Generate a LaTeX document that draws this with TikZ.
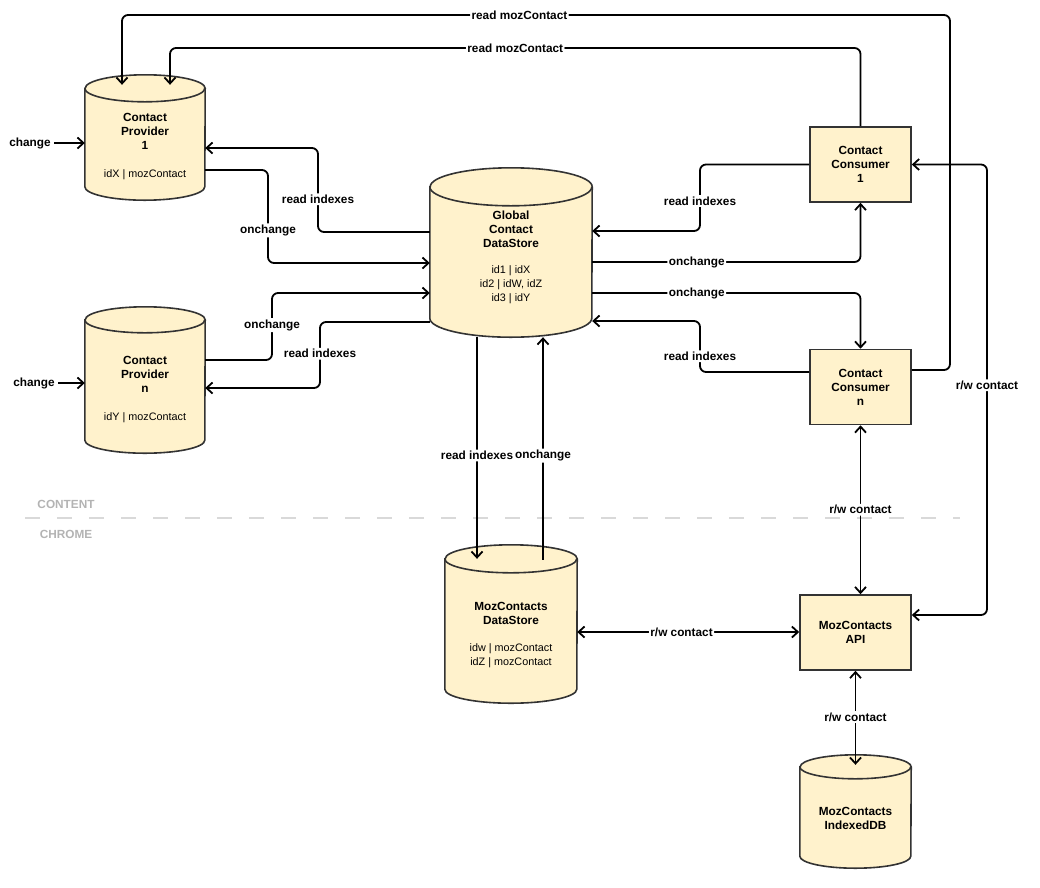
\documentclass[tikz,border=0pt]{standalone}
\usepackage{fontspec}
\setmainfont{Liberation Sans}
\usetikzlibrary{arrows.meta,backgrounds}
\definecolor{boxfill}{HTML}{FFF2CC}
\definecolor{boxline}{HTML}{333333}
\definecolor{zonegray}{HTML}{B3B3B3}
\definecolor{zoneline}{HTML}{D9D9D9}
\newcommand\cyl[3]{% node, x radius, y radius
  \filldraw[boxline,fill=boxfill,line width=1.6pt] ([yshift=-#3]#1.north west) -- ([yshift=#3]#1.south west)
    arc[start angle=180,end angle=360,x radius=#2,y radius=#3] -- ([yshift=-#3]#1.north east)
    arc[start angle=0,end angle=180,x radius=#2,y radius=#3] -- cycle;
  \draw[boxline,line width=1.6pt] ([yshift=-#3]#1.north west) arc[start angle=180,end angle=360,x radius=#2,y radius=#3];}
\newcommand\ids{\mdseries\fontsize{10.8pt}{13pt}\selectfont}
\begin{document}
\begin{tikzpicture}[x=1pt,y=-1pt,
  font=\fontsize{11.8pt}{14pt}\selectfont\bfseries,
  box/.style={draw=boxline,fill=boxfill,line width=1.6pt,minimum width=101pt,minimum height=75pt,align=center},
  store/.style={inner sep=0pt},
  inside/.style={align=center},
  conn/.style={line width=1.8pt,rounded corners=6pt},
  arr/.style={conn,-{Straight Barb[length=6pt,width=11pt]}},
  biarr/.style={conn,{Straight Barb[length=6pt,width=11pt]}-{Straight Barb[length=6pt,width=11pt]}},
  lbl/.style={fill=white,inner sep=1.5pt},
  zone/.style={text=zonegray}]
  \useasboundingbox (0,0) rectangle (1040,887);
  \node[store,minimum width=120pt,minimum height=125pt] (prov1) at (145,137.5) {};
  \node[store,minimum width=120pt,minimum height=146pt] (provn) at (145,380) {};
  \node[store,minimum width=162pt,minimum height=169pt] (global) at (511,252.5) {};
  \node[store,minimum width=132pt,minimum height=158pt] (mozds) at (511,624) {};
  \node[store,minimum width=111pt,minimum height=113pt] (idb) at (855.5,811.5) {};
  \begin{scope}[on background layer]
    \foreach \n/\rx/\ry in {prov1/60/13.5,provn/60/13,global/81/19,mozds/66/14,idb/55.5/12}{\cyl{\n}{\rx pt}{\ry pt}}
  \end{scope}
  \node[inside] (prov1t) at (145,147) {Contact\\Provider\\1\\[14pt]\ids idX | mozContact};
  \node[inside] (provnt) at (145,389.5) {Contact\\Provider\\n\\[14pt]\ids idY | mozContact};
  \node[inside] (globalt) at (511,257) {Global\\Contact\\DataStore\\[12pt]\ids id1 | idX\\\ids id2 | idW, idZ\\\ids id3 | idY};
  \node[inside] (mozdst) at (511,635) {MozContacts\\DataStore\\[13pt]\ids idw | mozContact\\\ids idZ | mozContact};
  \node[inside] (idbt) at (855.5,818) {MozContacts\\IndexedDB};
  \node[box] (cons1) at (860.5,164.5) {Contact\\Consumer\\1};
  \node[box] (consn) at (860.5,387) {Contact\\Consumer\\n};
  \node[box,minimum width=111pt] (api) at (855.5,632.5) {MozContacts\\API};
  \node (ch1) at (30,143) {change};
  \node (chn) at (34,383) {change};
  \draw[zoneline,line width=2pt,dash pattern=on 15pt off 17pt] (25,518) -- (960,518);
  \node[zone] (content) at (66,504) {CONTENT};
  \node[zone] (chrome) at (66,534) {CHROME};
  \draw[arr] (ch1) -- (prov1.west |- ch1);
  \draw[arr] (chn) -- (provn.west |- chn);
  \draw[arr] (global.west |- 0,232) -- (318,232) -- node[lbl,pos=.39]{read indexes} (318,148) -- (prov1.east |- 0,148);
  \draw[arr] (prov1.east |- 0,170) -- (268,170) -- node[lbl,pos=.65]{onchange} (268,263) -- (global.west |- 0,263);
  \draw[arr] (provn.east |- 0,360) -- (272,360) -- node[lbl,pos=.52]{onchange} (272,293) -- (global.west |- 0,293);
  \draw[arr] (global.west |- 0,322) -- (320,322) -- node[lbl,pos=.48]{read indexes} (320,388) -- (provn.east |- 0,388);
  \draw[arr] (cons1.west) -- (700,0 |- cons1.west) -- node[lbl,pos=.55]{read indexes} (700,231) -- (global.east |- 0,231);
  \draw[arr] (global.east |- 0,262) -- node[lbl,pos=.39]{onchange} (cons1.south |- 0,262) -- (cons1.south);
  \draw[arr] (global.east |- 0,293) -- node[lbl,pos=.39]{onchange} (consn.north |- 0,293) -- (consn.north);
  \draw[arr] (consn.west |- 0,372) -- (700,372) -- node[lbl,pos=.31]{read indexes} (700,321) -- (global.east |- 0,321);
  \draw[arr,shorten >=-10pt] (consn.east |- 0,370) -- (950,370) -- (950,15) -- node[lbl,pos=.52]{read mozContact} (122,15) -- (prov1.north -| 122,0);
  \draw[arr,shorten >=-10pt] (cons1.north) -- (cons1.north |- 0,48) -- node[lbl,pos=.5]{read mozContact} (170,48) -- (prov1.north -| 170,0);
  \draw[biarr] (api.east |- 0,615) -- (987,615) -- node[lbl,pos=.51]{r/w contact} (987,0 |- cons1.east) -- (cons1.east);
  \draw[biarr] (mozds.east |- 0,632) -- node[lbl,pos=.47]{r/w contact} (api.west |- 0,632);
  \draw[biarr] (consn.south) -- node[lbl]{r/w contact} (consn.south |- api.north);
  \draw[biarr,shorten >=-10pt] (api.south) -- node[lbl,pos=.55]{r/w contact} (idb.north);
  \draw[arr,shorten >=-14pt] (global.south -| 477,0) -- node[lbl,pos=.57]{read indexes} (mozds.north -| 477,0);
  \draw[arr,shorten <=-15pt] (mozds.north -| 543,0) -- node[lbl,pos=.43]{onchange} (global.south -| 543,0);
\end{tikzpicture}
\end{document}
